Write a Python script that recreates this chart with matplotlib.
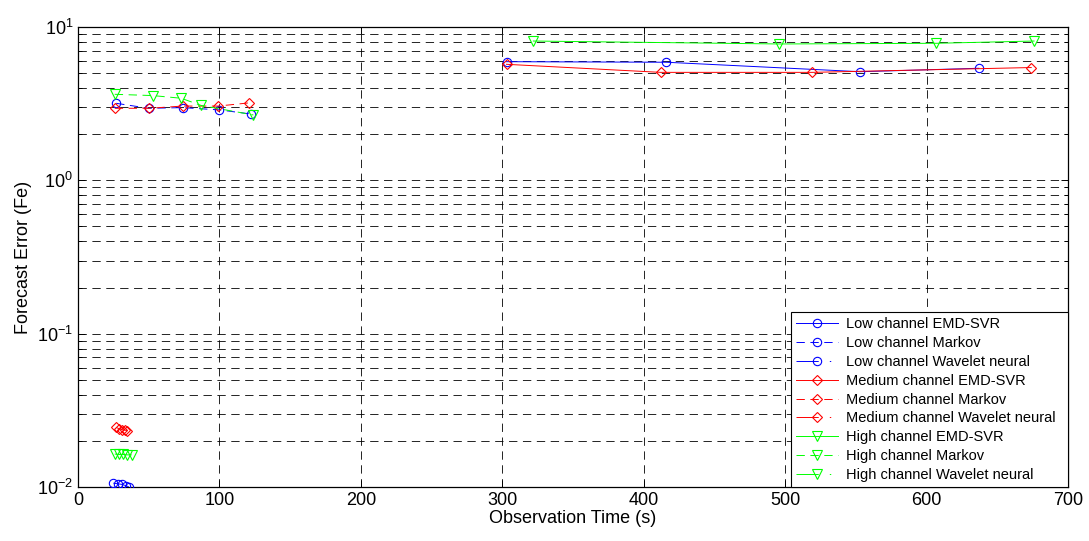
import matplotlib
matplotlib.use("Agg")
import matplotlib.pyplot as plt
from matplotlib.ticker import LogLocator, NullFormatter

plt.rcParams['font.family'] = ['Liberation Sans', 'DejaVu Sans']
plt.rcParams['mathtext.fontset'] = 'custom'
plt.rcParams['mathtext.rm'] = 'Liberation Sans'
plt.rcParams['mathtext.default'] = 'regular'
plt.rcParams['lines.scale_dashes'] = False

# ---- data ----
low_emd_t = [303, 416, 553, 637]
low_emd = [5.94, 5.89, 5.11, 5.38]
low_mk_t = [27, 50, 74, 100, 122]
low_mk = [3.18, 2.95, 2.98, 2.88, 2.71]
low_wn_t = [25, 28, 31, 34, 36]
low_wn = [0.0106, 0.0105, 0.0104, 0.0102, 0.0100]

med_emd_t = [303, 412, 519, 674]
med_emd = [5.71, 5.06, 5.06, 5.44]
med_mk_t = [26, 50, 74, 99, 121]
med_mk = [2.95, 2.95, 3.05, 3.05, 3.2]
med_wn_t = [27, 29, 31, 33, 35]
med_wn = [0.0245, 0.0240, 0.0237, 0.0235, 0.0233]

high_emd_t = [322, 496, 607, 676]
high_emd = [8.1, 7.75, 7.83, 8.1]
high_mk_t = [26, 53, 73, 87, 124]
high_mk = [3.64, 3.57, 3.43, 3.08, 2.67]
high_wn_t = [26, 29, 32, 35, 38]
high_wn = [0.0164, 0.0163, 0.0163, 0.0162, 0.0162]

labels = ["Low channel EMD-SVR", "Low channel Markov", "Low channel Wavelet neural",
          "Medium channel EMD-SVR", "Medium channel Markov", "Medium channel Wavelet neural",
          "High channel EMD-SVR", "High channel Markov", "High channel Wavelet neural"]

x_ticks = [0, 100, 200, 300, 400, 500, 600, 700]

fig = plt.figure(figsize=(10.89, 5.41), dpi=100)
ax = fig.add_axes([0.0716, 0.0998, 0.9091, 0.8503])

solid = '-'
dashed = (0, (6, 4))
wavelet = (0, (16, 8, 1, 8))

series = [
    (low_emd_t, low_emd, '#0000ff', 'o', solid),
    (low_mk_t, low_mk, '#0000ff', 'o', dashed),
    (low_wn_t, low_wn, '#0000ff', 'o', wavelet),
    (med_emd_t, med_emd, '#ff0000', 'D', solid),
    (med_mk_t, med_mk, '#ff0000', 'D', dashed),
    (med_wn_t, med_wn, '#ff0000', 'D', wavelet),
    (high_emd_t, high_emd, '#00ff00', 'v', solid),
    (high_mk_t, high_mk, '#00ff00', 'v', dashed),
    (high_wn_t, high_wn, '#00ff00', 'v', wavelet),
]
for (t, v, col, m, ls), lab in zip(series, labels):
    ms = {'o': 6.0, 'D': 5.0, 'v': 6.5}[m]
    ax.plot(t, v, color=col, linestyle=ls, linewidth=0.7, marker=m,
            markersize=ms, markerfacecolor='none', markeredgecolor=col,
            markeredgewidth=0.8, label=lab, zorder=3)

ax.set_yscale('log')
ax.set_xlim(0, 700)
ax.set_ylim(1e-2, 1e1)
ax.set_xticks(x_ticks)
ax.yaxis.set_major_locator(LogLocator(base=10, numticks=10))
ax.yaxis.set_minor_locator(LogLocator(base=10, subs=range(2, 10), numticks=20))
ax.yaxis.set_minor_formatter(NullFormatter())

ax.grid(True, which='major', axis='both', color='black', linestyle=(0, (6, 4)), linewidth=0.6)
ax.grid(True, which='minor', axis='y', color='black', linestyle=(0, (6, 4)), linewidth=0.6)
ax.tick_params(which='both', direction='in', top=True, right=True, labelsize=13)
ax.tick_params(which='major', length=5, width=0.7)
ax.tick_params(which='minor', length=3, width=0.7)
for s in ax.spines.values():
    s.set_linewidth(0.9)

ax.set_xlabel("Observation Time (s)", fontsize=13, labelpad=1)
ax.set_ylabel("Forecast Error (Fe)", fontsize=13, labelpad=4)

leg = ax.legend(loc='lower left', bbox_to_anchor=(0.7202, 0.0, 0.2798, 0.38),
                mode='expand', fontsize=10.5, frameon=True, fancybox=False,
                edgecolor='black', framealpha=1, borderaxespad=0,
                handlelength=2.9, handletextpad=0.5, labelspacing=0.33,
                borderpad=0.35)
leg.get_frame().set_linewidth(0.8)

fig.savefig("out.png", dpi=100)
